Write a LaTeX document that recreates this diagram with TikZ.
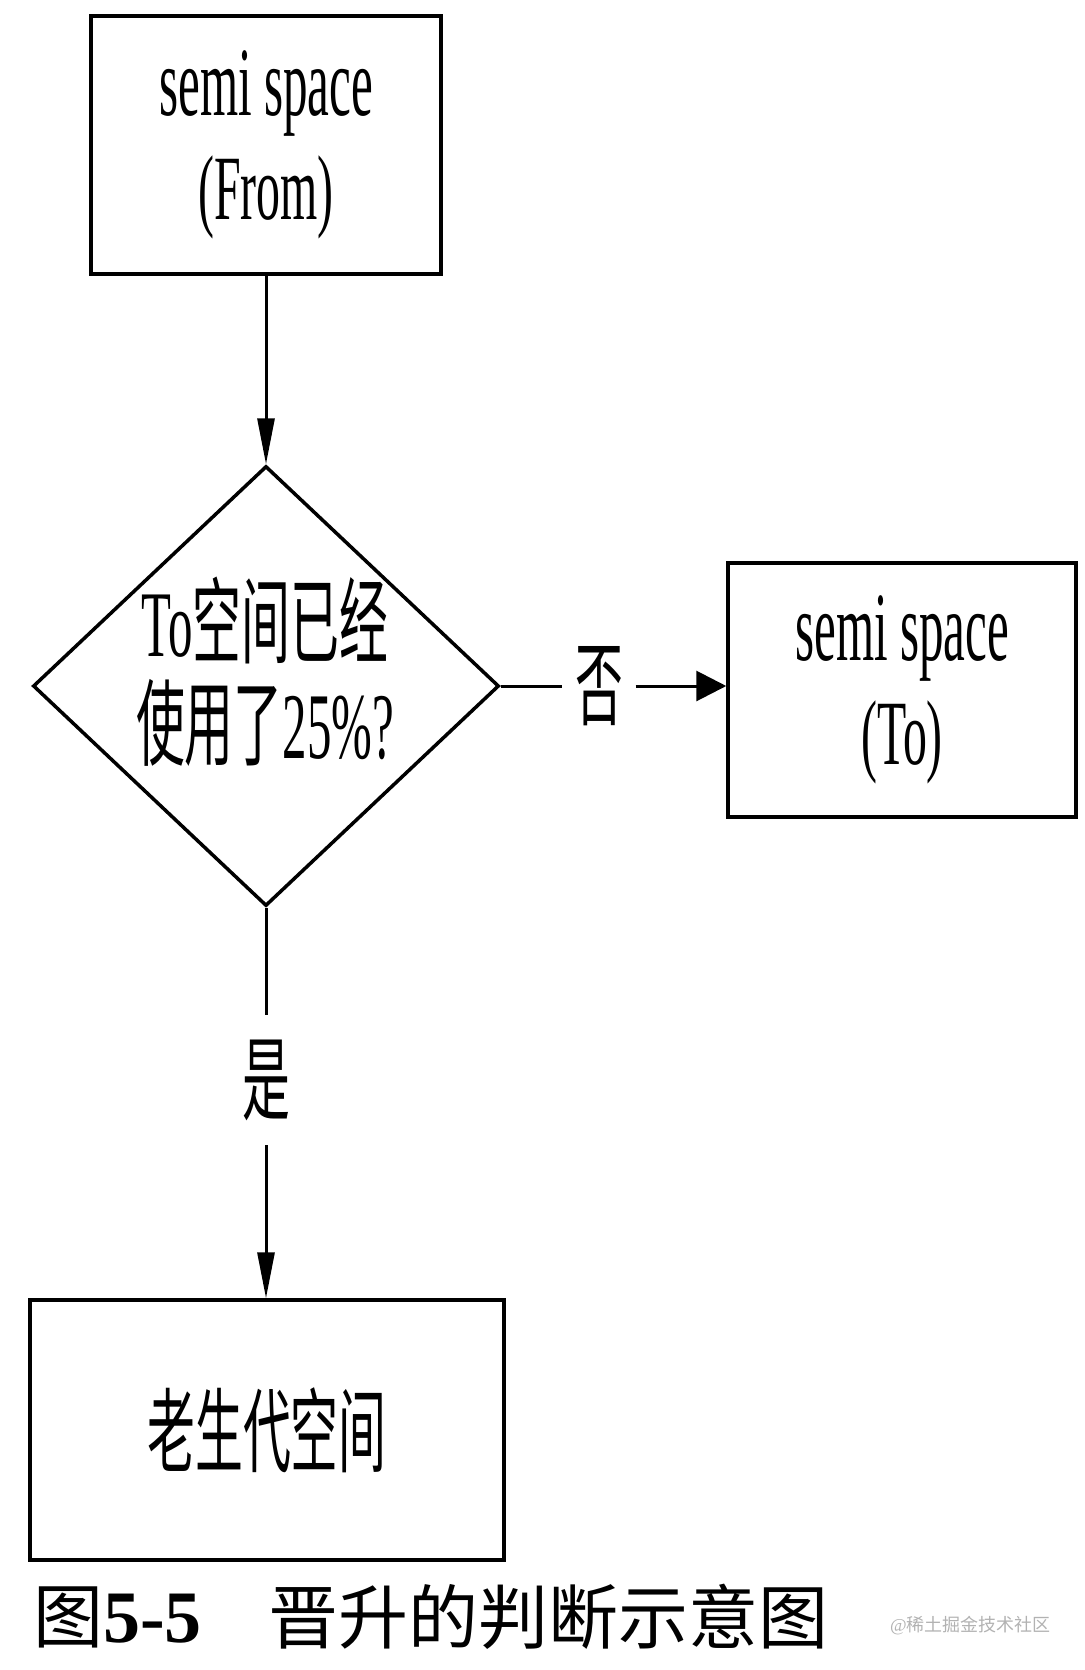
\documentclass[tikz,border=0pt]{standalone}
\usepackage{graphicx}
\usepackage{fontspec}
\setmainfont{Liberation Serif}
\newfontfamily\cjk{Noto Sans CJK SC}
\usetikzlibrary{arrows.meta,shapes.geometric}

% 横に詰めた文字
\newcommand{\squeeze}[1]{\scalebox{0.52}[1]{#1}}

\tikzset{
  box/.style={draw, line width=3.5pt, inner sep=0pt,
    font=\fontsize{92}{104}\selectfont, align=center},
  condbox/.style={draw, shape=diamond, line width=3.5pt, inner sep=0pt},
  branch/.style={inner sep=0pt, minimum width=73pt, minimum height=130pt,
    font=\fontsize{92}{104}\selectfont},
  flow/.style={line width=3pt},
  downtip/.style={-{Triangle[length=46pt,width=17pt]}},
  sidetip/.style={-{Triangle[length=30pt,width=30pt]}},
}

\begin{document}
\begin{tikzpicture}[x=1pt, y=-1pt]

    \useasboundingbox (0,0) rectangle (1084,1670);

    % ==================================================
    % 箱
    % ==================================================

    % semi space (From)
    \node[box, minimum width=350pt, minimum height=258pt] (from) at (266,145)
      {\scalebox{0.5}[1]{\fontsize{98}{104}\selectfont semi space}\\\squeeze{(From)}};

    % 判断
    \node[condbox, minimum width=466pt, minimum height=440pt] (cond) at (266,686) {};
    \node[font=\fontsize{94}{102}\selectfont, align=center] (condtext) at (265,672)
      {\squeeze{To{\cjk 空间已经}}\\\squeeze{{\cjk 使用了}25\%?}};

    % semi space (To)
    \node[box, minimum width=348pt, minimum height=254pt] (to) at (902,690)
      {\scalebox{0.5}[1]{\fontsize{98}{104}\selectfont semi space}\\\squeeze{(To)}};

    % 老生代空间
    \node[box, minimum width=474pt, minimum height=260pt] (old) at (267,1430)
      {\squeeze{\cjk 老生代空间}};

    % ==================================================
    % 矢印
    % ==================================================

    \draw[flow, downtip] (from) -- (from.south |- cond.north);

    % 否
    \node[branch] (no) at (599,686) {\squeeze{\cjk 否}};
    \draw[flow] (cond.east) -- (no);
    \draw[flow, sidetip] (no) -- (no -| to.west);

    % 是
    \node[branch] (yes) at (266,1080) {\squeeze{\cjk 是}};
    \draw[flow] (cond.south) -- (yes);
    \draw[flow, downtip] (yes) -- (yes |- old.north);

    % ==================================================
    % 図題
    % ==================================================

    \node[anchor=west, inner sep=0pt] (figno) at (33,1617)
      {\fontsize{70}{72}\selectfont\cjk 图{\fontsize{74}{76}\selectfont\rmfamily\bfseries 5-5}};
    \node[anchor=west, inner sep=0pt] (figtitle) at (268,1617)
      {\fontsize{70}{72}\selectfont\cjk 晋升的判断示意图};

    % 透かし
    \node[anchor=east, inner sep=0pt, text=black!30] (mark) at (1051,1626)
      {\fontsize{18}{20}\selectfont @{\cjk 稀土掘金技术社区}};

  \end{tikzpicture}
\end{document}
